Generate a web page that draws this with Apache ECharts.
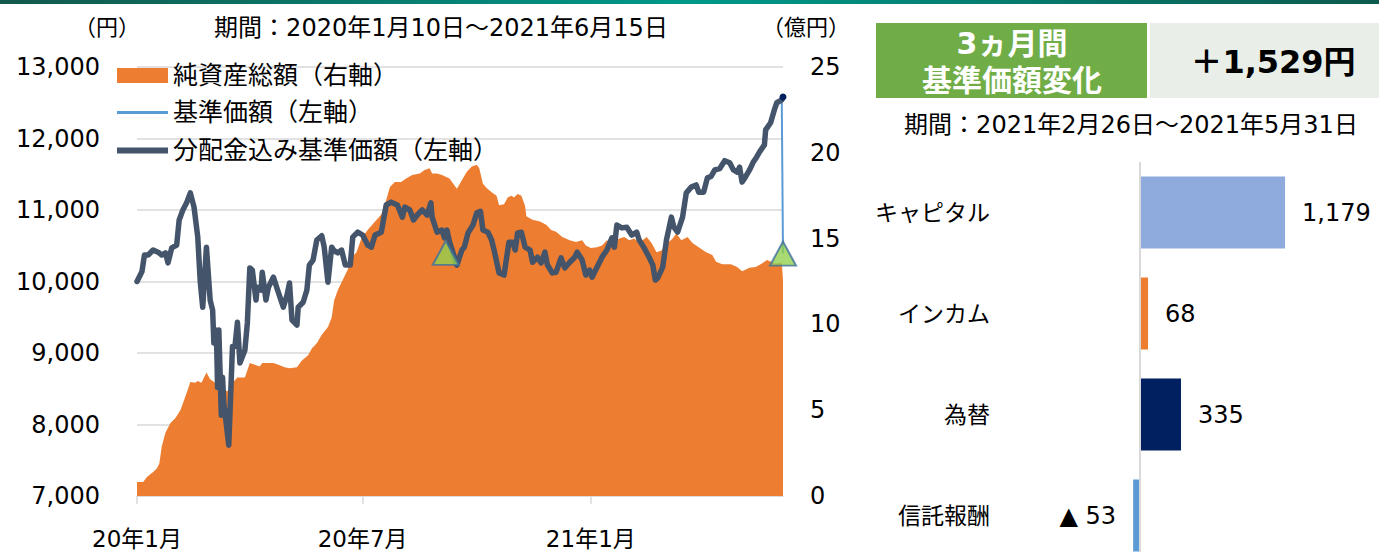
<!DOCTYPE html>
<html>
<head>
<meta charset="utf-8">
<script src="https://cdn.jsdelivr.net/npm/echarts@6/dist/echarts.min.js"></script>
<style>
  html, body { margin: 0; padding: 0; background: #fff; }
  #main { width: 1379px; height: 552px; }
</style>
</head>
<body>
<div id="main"></div>
<script>
// days counted from 2020-01-10
const tickDays = [0, 182, 366];
const tickLabels = ["20年1月", "20年7月", "21年1月"];

// 分配金込み基準価額 (円)
const navDays = [0, 4, 6, 9, 13, 17, 20, 23, 25, 28, 32, 34, 37, 40, 43, 46, 49, 51, 53, 56, 59, 61, 62, 64, 65, 66, 68, 69, 70, 74, 77, 79, 81, 83, 87, 89, 91, 93, 96, 97, 100, 101, 104, 106, 110, 113, 118, 121, 123, 125, 129, 130, 134, 137, 139, 142, 145, 149, 151, 154, 157, 159, 162, 165, 168, 172, 174, 178, 182, 186, 189, 192, 197, 201, 205, 210, 214, 216, 220, 223, 226, 230, 234, 237, 238, 242, 246, 248, 250, 252, 258, 262, 264, 267, 271, 274, 277, 279, 283, 286, 288, 292, 296, 300, 303, 305, 307, 310, 313, 317, 319, 323, 326, 329, 331, 335, 338, 342, 345, 349, 353, 355, 359, 362, 365, 367, 371, 375, 379, 383, 385, 387, 391, 395, 399, 403, 405, 409, 413, 416, 418, 420, 424, 427, 431, 433, 436, 440, 443, 447, 451, 453, 457, 460, 463, 466, 470, 474, 478, 481, 484, 486, 488, 491, 494, 497, 499, 502, 506, 507, 511, 514, 516, 520, 521];
const navDiv = [10000, 10140, 10370, 10370, 10440, 10410, 10370, 10400, 10260, 10470, 10510, 10860, 11000, 11100, 11240, 11040, 10620, 10000, 9640, 10480, 9740, 9600, 9140, 9320, 8520, 9320, 8130, 8660, 8300, 7710, 9090, 9090, 9430, 8860, 9040, 9420, 10190, 10160, 9740, 9920, 9880, 10130, 9740, 9920, 10060, 9900, 9640, 9810, 9980, 9460, 9390, 9640, 9710, 9880, 10230, 10300, 10580, 10640, 10480, 9990, 10480, 10430, 10400, 10440, 10230, 10230, 10620, 10690, 10650, 10510, 10480, 10650, 10690, 11070, 11110, 11070, 10900, 11040, 11000, 10860, 10930, 11000, 10930, 11100, 10900, 10690, 10720, 10610, 10720, 10560, 10230, 10440, 10480, 10680, 10790, 10960, 10980, 10720, 10690, 10580, 10440, 10120, 10090, 10550, 10550, 10440, 10680, 10690, 10480, 10440, 10270, 10340, 10260, 10410, 10230, 10120, 10130, 10330, 10190, 10270, 10340, 10410, 10300, 10090, 10160, 10060, 10200, 10340, 10440, 10610, 10480, 10790, 10750, 10760, 10650, 10690, 10580, 10470, 10340, 10230, 10020, 10050, 10200, 10580, 10900, 10760, 10690, 10900, 11240, 11320, 11350, 11250, 11250, 11450, 11470, 11560, 11580, 11690, 11660, 11560, 11530, 11600, 11390, 11470, 11560, 11670, 11720, 11810, 11910, 12120, 12220, 12400, 12500, 12540, 12580];

// 基準価額 (円): runs under the line above until the last day, where it drops after the distribution
const navExDays = [520, 521];
const navEx = [12540, 10390];

// distribution dates (triangles)
const distDays = [249, 521];
const distNav = [10400, 10390];

// 純資産総額 (億円)
const assetDays = [0, 5, 8, 13, 16, 18, 20, 23, 27, 31, 35, 39, 41, 43, 47, 49, 52, 56, 59, 63, 65, 69, 73, 77, 81, 87, 91, 95, 99, 101, 110, 114, 119, 123, 129, 133, 138, 141, 145, 149, 154, 157, 159, 162, 166, 170, 173, 177, 181, 186, 192, 197, 201, 204, 208, 213, 217, 222, 228, 232, 236, 238, 242, 246, 252, 258, 262, 266, 270, 274, 276, 279, 282, 286, 290, 292, 296, 299, 302, 304, 307, 310, 313, 314, 319, 325, 330, 334, 338, 343, 349, 354, 359, 362, 366, 371, 375, 379, 383, 389, 393, 397, 401, 405, 411, 415, 419, 423, 428, 432, 435, 439, 444, 448, 453, 459, 464, 467, 472, 479, 484, 488, 494, 499, 504, 508, 515, 520, 521];
const netAssets = [0.82, 0.82, 1.1, 1.4, 1.6, 1.9, 2.9, 3.7, 4.25, 4.55, 5.0, 5.8, 6.2, 6.65, 6.6, 6.7, 6.6, 7.2, 6.8, 6.6, 6.3, 6.2, 6.1, 6.6, 6.9, 6.9, 7.75, 7.65, 7.55, 7.75, 7.75, 7.65, 7.5, 7.45, 7.5, 7.9, 8.2, 8.6, 8.9, 9.4, 9.85, 10.4, 11.4, 12.0, 12.6, 13.2, 13.9, 14.2, 15.0, 15.5, 16.0, 16.4, 17.25, 18.0, 18.3, 18.3, 18.5, 18.7, 18.8, 19.0, 19.1, 18.8, 18.8, 18.7, 18.5, 17.9, 18.4, 18.9, 19.2, 19.3, 19.1, 18.2, 17.95, 17.7, 17.5, 16.95, 17.0, 17.4, 17.5, 17.4, 17.6, 17.5, 16.9, 16.3, 16.1, 16.0, 15.8, 15.5, 15.4, 15.1, 14.9, 14.8, 14.9, 14.6, 14.45, 14.5, 14.6, 14.9, 14.75, 15.0, 15.1, 14.9, 15.0, 14.75, 15.1, 14.75, 14.2, 14.3, 14.75, 15.0, 15.3, 14.9, 15.1, 14.75, 14.5, 14.2, 14.05, 13.65, 13.5, 13.5, 13.35, 13.1, 13.3, 13.35, 13.55, 13.75, 13.55, 13.6, 12.6];

// 3ヵ月間 基準価額変化の要因
const factorNames = ["キャピタル", "インカム", "為替", "信託報酬"];
const factorValues = [1179, 68, 335, -53];
const factorColors = ["#8faadc", "#ed7d31", "#002060", "#5b9bd5"];

const FONT = "'DejaVu Sans', 'Noto Sans CJK JP', sans-serif";
const zip = (xs, ys) => xs.map((x, i) => [x, ys[i]]);

const legendText = { fontSize: 25, fontFamily: FONT, color: "#000" };
const legendItem = (name, top, h) => ({
  left: 117,
  top: top,
  padding: 0,
  itemWidth: 51,
  itemHeight: h,
  icon: "rect",
  textStyle: legendText,
  data: [name]
});

const chart = echarts.init(document.getElementById("main"), null, { renderer: "svg" });

const option = {
  animation: false,
  textStyle: { fontFamily: FONT, color: "#000" },
  grid: [
    { left: 137, top: 67, width: 646, height: 429, outerBoundsMode: "none" },
    { left: 1004, top: 162, width: 333, height: 404, outerBoundsMode: "none" }
  ],
  legend: [
    legendItem("純資産総額（右軸）", 63, 15),
    legendItem("基準価額（左軸）", 100, 3),
    legendItem("分配金込み基準価額（左軸）", 138, 6)
  ],
  xAxis: [
    {
      type: "value",
      gridIndex: 0,
      min: 0,
      max: 521,
      splitLine: { show: false },
      axisLine: { show: true, lineStyle: { color: "#d9d9d9", width: 1.5 } },
      axisTick: { show: true, customValues: tickDays, length: 8, lineStyle: { color: "#d9d9d9", width: 1.5 } },
      axisLabel: {
        customValues: tickDays,
        margin: 31,
        fontSize: 23,
        color: "#000",
        formatter: (v) => tickLabels[tickDays.indexOf(v)] || ""
      }
    },
    {
      type: "value",
      gridIndex: 1,
      min: -1100,
      max: 1600,
      show: false
    }
  ],
  yAxis: [
    {
      type: "value",
      gridIndex: 0,
      min: 7000,
      max: 13000,
      interval: 1000,
      axisLine: { show: false },
      axisTick: { show: false },
      splitLine: { lineStyle: { color: "#d9d9d9", width: 1.5 } },
      axisLabel: { fontSize: 24, margin: 37, color: "#000", formatter: (v) => echarts.format.addCommas(v) }
    },
    {
      type: "value",
      gridIndex: 0,
      position: "right",
      min: 0,
      max: 25,
      interval: 5,
      axisLine: { show: false },
      axisTick: { show: false },
      splitLine: { show: false },
      axisLabel: { fontSize: 24, margin: 27, color: "#000" }
    },
    {
      type: "category",
      gridIndex: 1,
      inverse: true,
      data: factorNames,
      axisLine: { show: false, onZero: false },
      axisTick: { show: false },
      axisLabel: { fontSize: 23, margin: 14, color: "#000" }
    }
  ],
  series: [
    {
      name: "純資産総額（右軸）",
      type: "line",
      xAxisIndex: 0,
      yAxisIndex: 1,
      data: zip(assetDays, netAssets),
      symbol: "none",
      itemStyle: { color: "#ed7d31" },
      lineStyle: { width: 0 },
      areaStyle: { color: "#ed7d31", opacity: 1 },
      z: 1
    },
    {
      name: "基準価額（左軸）",
      type: "line",
      xAxisIndex: 0,
      yAxisIndex: 0,
      data: zip(navExDays, navEx),
      symbol: "none",
      itemStyle: { color: "#5b9bd5" },
      lineStyle: { width: 2, color: "#5b9bd5" },
      z: 2
    },
    {
      name: "分配金込み基準価額（左軸）",
      type: "line",
      xAxisIndex: 0,
      yAxisIndex: 0,
      data: zip(navDays, navDiv).map((p, i, a) =>
        i === a.length - 1
          ? { value: p, symbol: "circle", symbolSize: 7, itemStyle: { color: "#002060" } }
          : p
      ),
      symbol: "none",
      showSymbol: true,
      itemStyle: { color: "#44546a" },
      lineStyle: { width: 5.5, color: "#44546a", cap: "round", join: "round" },
      z: 3
    },
    {
      type: "scatter",
      xAxisIndex: 0,
      yAxisIndex: 0,
      data: zip(distDays, distNav),
      symbol: "triangle",
      symbolSize: [26, 24],
      itemStyle: { color: "#92d050", borderColor: "#41719c", borderWidth: 2 },
      z: 4
    },
    {
      type: "bar",
      xAxisIndex: 1,
      yAxisIndex: 2,
      barWidth: 72,
      data: factorValues.map((v, i) => ({
        value: v,
        itemStyle: { color: factorColors[i] },
        label: { position: v < 0 ? "left" : "right" }
      })),
      label: {
        show: true,
        distance: 17,
        fontSize: 24,
        color: "#000",
        fontFamily: FONT,
        formatter: (p) => (p.value < 0 ? "▲ " + Math.abs(p.value) : echarts.format.addCommas(p.value))
      },
      markLine: {
        silent: true,
        symbol: ["none", "none"],
        label: { show: false },
        lineStyle: { color: "#d9d9d9", width: 2, type: "solid" },
        data: [{ xAxis: 0 }]
      }
    }
  ],
  graphic: [
    {
      type: "rect",
      shape: { x: 0, y: 0, width: 1379, height: 4 },
      style: {
        fill: new echarts.graphic.LinearGradient(0, 0, 1, 0, [
          { offset: 0, color: "#13584c" },
          { offset: 0.5, color: "#00998a" },
          { offset: 1, color: "#0d5a4e" }
        ])
      }
    },
    { type: "rect", shape: { x: 876, y: 23, width: 271, height: 75 }, style: { fill: "#70ad47" } },
    { type: "rect", shape: { x: 1150, y: 23, width: 229, height: 75 }, style: { fill: "#e9eee8" } },
    {
      type: "text",
      style: { text: "3ヵ月間", x: 1012, y: 43, align: "center", verticalAlign: "middle",
        fontSize: 30, fontWeight: "bold", fontFamily: FONT, fill: "#fff" }
    },
    {
      type: "text",
      style: { text: "基準価額変化", x: 1012, y: 80, align: "center", verticalAlign: "middle",
        fontSize: 30, fontWeight: "bold", fontFamily: FONT, fill: "#fff" }
    },
    {
      type: "text",
      style: { text: "＋1,529円", x: 1273, y: 62, align: "center", verticalAlign: "middle",
        fontSize: 32, fontWeight: "bold", fontFamily: FONT, fill: "#000" }
    },
    {
      type: "text",
      style: { text: "期間：2021年2月26日～2021年5月31日", x: 1131, y: 125, align: "center", verticalAlign: "middle",
        fontSize: 24, fontFamily: FONT, fill: "#000" }
    },
    {
      type: "text",
      style: { text: "期間：2020年1月10日～2021年6月15日", x: 441, y: 28, align: "center", verticalAlign: "middle",
        fontSize: 24, fontFamily: FONT, fill: "#000" }
    },
    {
      type: "text",
      style: { text: "（円）", x: 107, y: 27, align: "center", verticalAlign: "middle",
        fontSize: 22, fontFamily: FONT, fill: "#000" }
    },
    {
      type: "text",
      style: { text: "（億円）", x: 806, y: 27, align: "center", verticalAlign: "middle",
        fontSize: 22, fontFamily: FONT, fill: "#000" }
    }
  ]
};

chart.setOption(option);
window.addEventListener("resize", () => chart.resize());
</script>
</body>
</html>
